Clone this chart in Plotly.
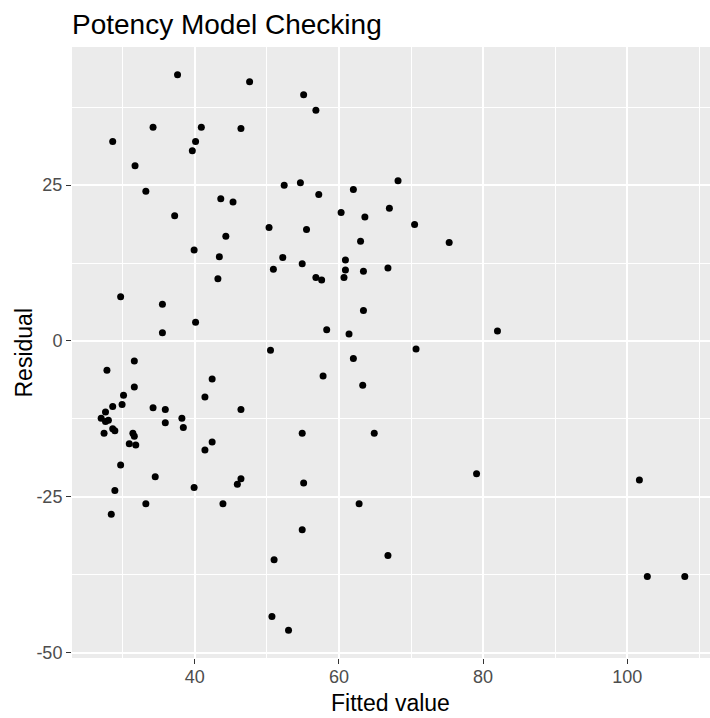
import plotly.graph_objects as go

fitted = [37.6, 47.6, 34.2, 40.9, 46.4, 28.6, 40.1, 39.65, 31.7, 33.2, 43.6, 45.3, 37.2, 50.3, 44.3, 39.9, 43.4,
          50.9, 43.2, 29.7, 35.5, 40.1, 35.5, 50.5, 31.6, 27.8, 42.4, 31.6, 30.1, 41.4, 29.9, 28.6, 34.2, 35.9, 46.4,
          27.6, 27.0, 28.0, 27.6, 38.2, 35.9, 38.4, 28.6, 28.9, 27.4, 31.4, 31.6, 42.4, 30.9, 31.8, 41.4,
          29.7, 34.5, 46.4, 45.9, 28.9, 39.9, 33.2, 43.9, 28.4, 51.0, 50.7,
          55.1, 56.8, 68.2, 52.4, 54.65, 62.0, 57.2, 67.0, 60.3, 63.6, 70.5, 55.5, 75.3, 63.0, 52.2, 60.9,
          54.9, 60.9, 63.4, 66.8, 56.8, 57.6, 60.7, 63.4, 58.3, 61.4, 82.0, 70.7, 62.0, 57.8, 63.3, 54.9, 64.9,
          55.1, 79.1, 62.8, 54.9, 66.8, 53.0,
          101.7, 102.8, 108.0]
residual = [42.7, 41.6, 34.3, 34.3, 34.1, 32.0, 32.0, 30.5, 28.1, 24.0, 22.8, 22.3, 20.1, 18.2, 16.8, 14.6, 13.5,
            11.5, 10.0, 7.1, 5.9, 3.0, 1.3, -1.5, -3.2, -4.7, -6.1, -7.4, -8.7, -9.0, -10.2, -10.5, -10.7, -11.0, -11.0,
            -11.4, -12.4, -12.7, -12.9, -12.4, -13.1, -13.9, -14.1, -14.4, -14.8, -14.8, -15.3, -16.2, -16.5, -16.7, -17.5,
            -19.9, -21.8, -22.1, -23.0, -24.0, -23.5, -26.1, -26.1, -27.8, -35.1, -44.2,
            39.5, 37.0, 25.7, 25.0, 25.4, 24.3, 23.5, 21.3, 20.6, 19.9, 18.7, 17.9, 15.8, 16.0, 13.4, 13.0,
            12.4, 11.4, 11.2, 11.7, 10.2, 9.8, 10.2, 4.9, 1.8, 1.1, 1.6, -1.3, -2.8, -5.6, -7.1, -14.8, -14.8,
            -22.8, -21.3, -26.1, -30.3, -34.4, -46.4,
            -22.3, -37.8, -37.8]

x_ticks = [40, 60, 80, 100]
x_minor = [30, 50, 70, 90, 110]
y_ticks = [-50, -25, 0, 25]
y_minor = [-37.5, -12.5, 12.5, 37.5]

FONT = "Liberation Sans, Arial, sans-serif"

W, H = 710, 718
ML, MT, MB = 72, 47, 60
PW, PH = W - ML, H - MT - MB
X_LO = 22.95
PX_PER_UNIT = 7.205
X_HI = X_LO + PW / PX_PER_UNIT

fig = go.Figure(go.Scatter(
    x=fitted, y=residual, mode="markers",
    marker=dict(color="black", size=7, line=dict(width=0)),
    hoverinfo="skip",
))

axis_common = dict(
    showgrid=True, gridcolor="white", gridwidth=2,
    zeroline=False, showline=False, automargin=False,
    ticks="outside", ticklen=5, tickwidth=1, tickcolor="#333333",
    tickfont=dict(family=FONT, size=18, color="#4D4D4D"),
)

fig.update_layout(
    width=W, height=H,
    margin=dict(l=ML, r=0, t=MT, b=MB),
    paper_bgcolor="white",
    plot_bgcolor="#EBEBEB",
    showlegend=False,
    title=dict(text="Potency Model Checking", x=0, xref="paper", xanchor="left",
               y=1 - 24 / H, yref="container", yanchor="middle",
               font=dict(family=FONT, size=28, color="black")),
    xaxis=dict(range=[X_LO, X_HI], tickvals=x_ticks, ticktext=[str(v) for v in x_ticks],
               minor=dict(tickvals=x_minor, showgrid=True, gridcolor="white", gridwidth=1, ticks=""),
               ticklabelstandoff=-3,
               **axis_common),
    yaxis=dict(range=[-50.86, 47.16], tickvals=y_ticks, ticktext=[str(v) for v in y_ticks],
               minor=dict(tickvals=y_minor, showgrid=True, gridcolor="white", gridwidth=1, ticks=""),
               ticklabelstandoff=0,
               **axis_common),
    annotations=[
        dict(text="Fitted value", xref="paper", yref="paper", x=(390 - ML) / PW, y=-45 / PH,
             xanchor="center", yanchor="middle", showarrow=False,
             font=dict(family=FONT, size=23, color="black")),
        dict(text="Residual", xref="paper", yref="paper", x=-49 / PW, y=0.5, textangle=-90,
             xanchor="center", yanchor="middle", showarrow=False,
             font=dict(family=FONT, size=23, color="black")),
    ],
)

fig.write_html("out.html",
               config={"displayModeBar": False},
               post_script="document.body.style.margin='0';document.body.style.overflow='hidden';")
